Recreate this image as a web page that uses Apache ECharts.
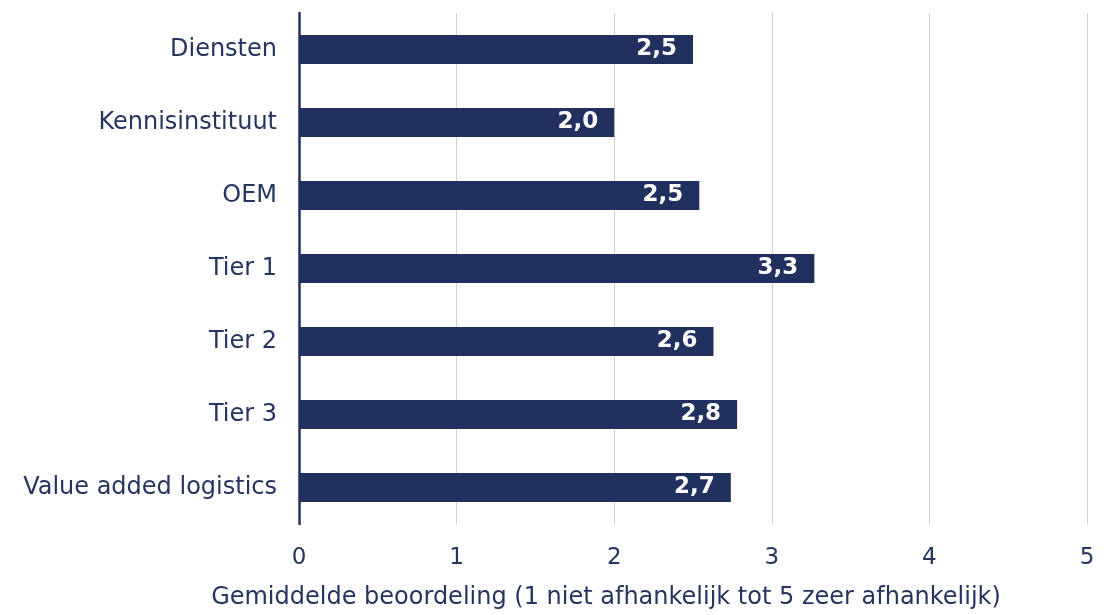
<!DOCTYPE html>
<html>
<head>
<meta charset="utf-8">
<script src="https://cdn.jsdelivr.net/npm/echarts@6/dist/echarts.min.js"></script>
<style>
  html, body { margin: 0; padding: 0; background: #fff; overflow: hidden; }
  #chart { width: 1113px; height: 615px; }
</style>
</head>
<body>
<div id="chart"></div>
<script>
// Categories, top to bottom
const categories = [
  'Diensten',
  'Kennisinstituut',
  'OEM',
  'Tier 1',
  'Tier 2',
  'Tier 3',
  'Value added logistics'
];
// Average rating per category
const scores = [2.50, 2.00, 2.54, 3.27, 2.63, 2.78, 2.74];
// Value axis tick labels
const tickLabels = ['0', '1', '2', '3', '4', '5'];
const axisTitle = 'Gemiddelde beoordeling (1 niet afhankelijk tot 5 zeer afhankelijk)';

const navy = '#223060';
const textColor = '#26355f';
const font = '"DejaVu Sans", Verdana, sans-serif';

const chart = echarts.init(document.getElementById('chart'), null, { renderer: 'canvas' });
chart.setOption({
  animation: false,
  backgroundColor: '#ffffff',
  grid: { left: 299, right: 26, top: 13, bottom: 87, containLabel: false },
  xAxis: {
    type: 'value',
    min: 0,
    max: 5,
    interval: 1,
    name: axisTitle,
    nameLocation: 'middle',
    nameGap: 62,
    // title sits a little left of the plot centre
    nameTextStyle: { color: textColor, fontSize: 24, fontFamily: font, padding: [0, 174, 0, 0] },
    axisLine: { show: false },
    axisTick: { show: false },
    axisLabel: {
      color: textColor, fontSize: 23, fontFamily: font, margin: 23,
      formatter: v => tickLabels[Math.round(v)]
    },
    splitLine: { show: true, lineStyle: { color: '#cfcfd4', width: 1 } }
  },
  yAxis: {
    type: 'category',
    data: categories,
    inverse: true,
    axisLine: { show: true, lineStyle: { color: navy, width: 2.5 } },
    axisTick: { show: false },
    axisLabel: { color: textColor, fontSize: 24, fontFamily: font, margin: 22 }
  },
  series: [{
    type: 'bar',
    data: scores,
    barWidth: '40%',
    itemStyle: { color: navy },
    label: {
      show: true,
      position: 'insideRight',
      distance: 16,
      color: '#ffffff',
      fontWeight: 'bold',
      fontSize: 23,
      fontFamily: font,
      formatter: p => p.value.toFixed(1).replace('.', ',')
    }
  }]
});
</script>
</body>
</html>
